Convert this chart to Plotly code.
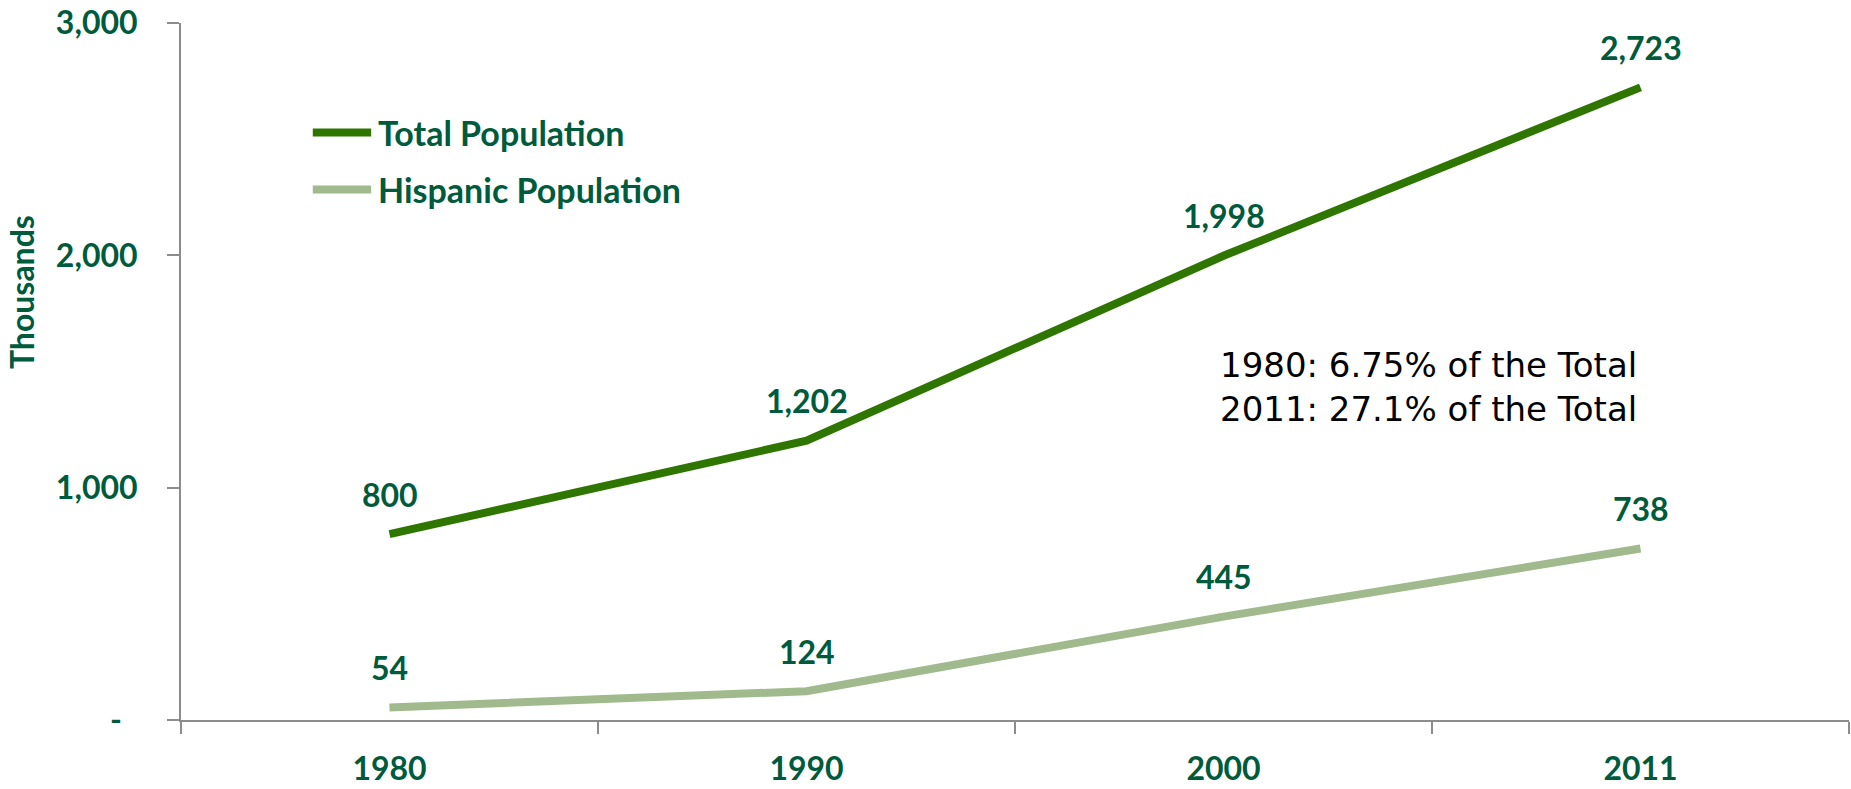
import plotly.graph_objects as go

# Population series (thousands)
years = ["1980", "1990", "2000", "2011"]
total_population = [800, 1202, 1998, 2723]
hispanic_population = [54, 124, 445, 738]

series_names = ["Total Population", "Hispanic Population"]

y_tick_values = [0, 1000, 2000, 3000]
y_tick_labels = ["-\u00a0\u00a0", "1,000", "2,000", "3,000"]

share_notes = ["1980: 6.75% of the Total", "2011: 27.1% of the Total"]

TEXT_GREEN = "#005A3C"
TOTAL_GREEN = "#2E7600"
HISPANIC_GREEN = "#A0BA8E"
AXIS_GREY = "#8C8C8C"
LABEL_FONT = dict(family="Lato", size=32, color=TEXT_GREEN, weight="bold")

series_values = [total_population, hispanic_population]
series_colors = [TOTAL_GREEN, HISPANIC_GREEN]

fig = go.Figure()

for name, values, color in zip(series_names, series_values, series_colors):
    fig.add_trace(go.Scatter(
        x=years, y=values, mode="lines", name=name,
        line=dict(color=color, width=8), showlegend=False,
    ))

# Value labels above each point (category index used as x position)
for values in series_values:
    for i, val in enumerate(values):
        fig.add_annotation(
            x=i, y=val, text=f"{val:,}", showarrow=False,
            yshift=40, font=LABEL_FONT, xanchor="center", yanchor="middle",
        )

# Legend: line swatch plus series name
legend_rows_y = [0.843, 0.761]
for name, color, ly in zip(series_names, series_colors, legend_rows_y):
    fig.add_shape(
        type="line", xref="paper", yref="paper",
        x0=0.079, x1=0.114, y0=ly, y1=ly,
        line=dict(color=color, width=8),
    )
    fig.add_annotation(
        x=0.117, y=ly, xref="paper", yref="paper", text=name,
        showarrow=False, xanchor="left", yanchor="middle",
        font=dict(family="Lato", size=34, color=TEXT_GREEN, weight="bold"),
    )

fig.add_annotation(
    x=0.6217, y=0.478, xref="paper", yref="paper",
    text="<br>".join(share_notes), showarrow=False, align="left",
    xanchor="left", yanchor="middle",
    font=dict(family="DejaVu Sans", size=34, color="#000000"),
)

# Vertical axis caption
fig.add_annotation(
    x=-0.0959, y=0.614, xref="paper", yref="paper", text="Thousands",
    textangle=-90, showarrow=False, xanchor="center", yanchor="middle",
    font=dict(family="Lato", size=32, color=TEXT_GREEN, weight="bold"),
)

fig.update_layout(
    width=1851, height=789,
    margin=dict(l=181, r=2, t=22, b=67),
    paper_bgcolor="white", plot_bgcolor="white",
    showlegend=False,
    xaxis=dict(
        type="category", range=[-0.5, 3.5],
        showline=True, linecolor=AXIS_GREY, linewidth=2,
        ticks="outside", ticklen=12, tickcolor=AXIS_GREY, tickwidth=2,
        tickson="boundaries", showgrid=False, zeroline=False,
        tickfont=LABEL_FONT, ticklabelstandoff=20,
    ),
    yaxis=dict(
        range=[0, 3000], tickmode="array",
        tickvals=y_tick_values, ticktext=y_tick_labels,
        showline=True, linecolor=AXIS_GREY, linewidth=2,
        ticks="outside", ticklen=12, tickcolor=AXIS_GREY, tickwidth=2,
        showgrid=False, zeroline=False,
        tickfont=LABEL_FONT, ticklabelstandoff=23,
    ),
)

fig.write_html("out.html")
